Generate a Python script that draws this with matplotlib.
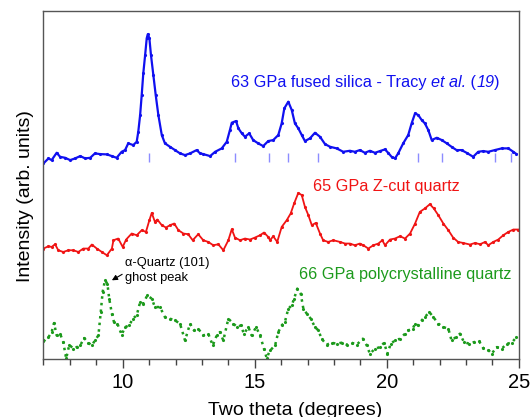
import matplotlib
matplotlib.use("Agg")
import matplotlib.pyplot as plt
from matplotlib.ticker import MultipleLocator

plt.rcParams['font.family'] = ['Liberation Sans', 'DejaVu Sans']

# 63 GPa fused silica (Tracy et al.)
silica_2theta = [7.00, 7.19, 7.31, 7.50, 7.63, 7.82, 8.01, 8.20, 8.39, 8.58, 8.77, 8.95,
                 9.14, 9.40, 9.59, 9.77, 9.96, 10.09, 10.21, 10.40, 10.53, 10.59, 10.66,
                 10.72, 10.78, 10.85, 10.91, 10.95, 11.01, 11.07, 11.16, 11.25, 11.35,
                 11.48, 11.60, 11.79, 11.98, 12.17, 12.36, 12.55, 12.80, 12.93,
                 13.05, 13.31, 13.50, 13.75, 13.94, 14.06, 14.13, 14.29, 14.38, 14.51,
                 14.63, 14.79, 14.94, 15.13, 15.32, 15.51, 15.70, 15.89, 16.02, 16.12,
                 16.27, 16.40, 16.52, 16.65, 16.78, 16.90, 17.09, 17.28, 17.47, 17.66,
                 17.85, 18.10, 18.35,
                 18.60, 18.79, 18.98, 19.17, 19.36, 19.55, 19.74, 19.93, 20.05, 20.18,
                 20.31, 20.43, 20.62, 20.81, 20.94, 21.07, 21.19, 21.32, 21.44, 21.57,
                 21.70, 21.89, 22.08, 22.27, 22.45, 22.64, 22.83, 23.02, 23.27, 23.46,
                 23.65, 23.84, 24.09, 24.35, 24.60, 24.79, 24.91]
silica_int = [19.57, 20.07, 19.90, 20.63, 20.23, 20.13, 19.90, 20.07, 20.30, 20.07, 20.13, 20.57,
              20.50, 20.47, 20.30, 20.13, 20.73, 20.90, 21.57, 21.40, 21.73, 22.73, 24.40,
              26.40, 28.57, 30.40, 32.07, 32.47, 32.07, 30.40, 28.40, 26.40, 24.40,
              22.40, 21.57, 21.23, 20.90, 20.57, 20.40, 20.57, 20.90, 20.57,
              20.50, 20.30, 20.73, 21.07, 21.73, 22.90, 23.63, 23.80, 23.07, 22.57,
              22.23, 22.57, 21.90, 21.57, 21.30, 21.80, 21.90, 22.40, 23.57, 25.07,
              25.73, 24.90, 23.57, 23.07, 22.40, 21.80, 22.07, 22.63, 22.23, 21.50,
              21.23, 21.07, 20.73,
              20.83, 20.73, 20.90, 20.63, 20.83, 20.63, 20.80, 20.97, 20.63, 20.23,
              20.07, 20.57, 21.57, 22.40, 23.57, 24.57, 24.40, 23.90, 23.57, 22.90,
              21.90, 22.13, 21.90, 21.57, 21.23, 20.90, 20.90, 20.63, 20.23, 20.73,
              20.80, 20.73, 20.90, 21.07, 21.07, 20.73, 20.50]

# reference reflection positions under the silica pattern
ref_2theta = [10.98, 14.26, 15.55, 16.27, 17.41, 21.18, 22.08, 24.09, 24.72]

# 65 GPa Z-cut quartz
zcut_2theta = [7.00, 7.19, 7.31, 7.44, 7.56, 7.75, 7.94, 8.13, 8.32, 8.51, 8.70, 8.83,
               9.02, 9.21, 9.40, 9.59, 9.65, 9.83, 10.00, 10.13, 10.34, 10.53, 10.72,
               10.88, 11.01, 11.10, 11.22, 11.31, 11.48, 11.64, 11.79, 11.95, 12.11,
               12.30, 12.48, 12.65, 12.86, 13.05, 13.24, 13.43, 13.62, 13.81, 14.00,
               14.13, 14.25, 14.44, 14.63, 14.82, 15.01, 15.20, 15.35, 15.51, 15.58,
               15.70, 15.85, 16.02, 16.21, 16.36, 16.49, 16.65, 16.78, 16.90, 17.03,
               17.16, 17.31, 17.47, 17.59, 17.78, 17.97, 18.23, 18.42, 18.60, 18.79,
               18.98, 19.11, 19.30, 19.49, 19.68, 19.83, 19.93, 20.12, 20.31, 20.50,
               20.69, 20.88, 21.07, 21.25, 21.44, 21.63, 21.78, 21.95, 22.14, 22.33,
               22.51, 22.70, 22.89, 23.15, 23.34, 23.53, 23.72, 23.84, 24.03, 24.22,
               24.41, 24.60, 24.79, 24.97]
zcut_int = [11.07, 11.30, 11.23, 11.50, 10.90, 10.73, 10.90, 10.90, 10.73, 11.07, 11.07, 11.47,
            11.07, 10.73, 10.40, 11.07, 11.90, 12.07, 11.23, 11.97, 12.57, 12.40, 12.90,
            12.73, 13.90, 14.63, 13.73, 13.97, 13.40, 13.17, 13.40, 13.57, 12.90,
            12.57, 12.50, 11.90, 12.50, 11.90, 11.73, 11.40, 11.50, 10.90, 11.90,
            13.00, 12.17, 11.90, 12.07, 11.97, 12.17, 12.40, 12.67, 12.23, 11.90,
            12.30, 11.73, 13.23, 13.90, 14.57, 15.57, 16.63, 16.40, 15.23, 14.40,
            13.40, 13.63, 12.57, 11.90, 11.73, 11.90, 11.73, 11.57, 11.57, 11.40,
            11.57, 11.40, 11.07, 11.40, 11.57, 11.90, 11.40, 11.97, 12.07, 12.30,
            12.07, 12.57, 13.57, 14.73, 15.07, 15.50, 15.07, 14.40, 13.57, 12.90,
            12.17, 11.73, 11.63, 11.47, 11.63, 11.50, 11.73, 11.40, 11.73, 11.97,
            12.40, 12.73, 12.97, 12.97]

# 66 GPa polycrystalline quartz
poly_2theta = [7.00, 7.19, 7.31, 7.40, 7.50, 7.63, 7.75, 7.86, 7.98, 8.13, 8.26, 8.39,
               8.54, 8.70, 8.83, 8.95, 9.08, 9.17, 9.24, 9.33, 9.42, 9.49, 9.59, 9.67,
               9.80, 9.96, 10.09, 10.25, 10.38, 10.53, 10.66, 10.78, 10.93, 11.10,
               11.22, 11.41, 11.60, 11.79, 11.98, 12.17, 12.36, 12.55, 12.70, 12.86,
               13.05, 13.24, 13.41, 13.56, 13.68, 13.81, 14.00, 14.19, 14.34, 14.47,
               14.59, 14.76, 14.88, 15.05, 15.20, 15.35, 15.45, 15.58, 15.77, 15.89,
               16.02, 16.14, 16.27, 16.40, 16.49, 16.61, 16.74, 16.84, 16.97, 17.12,
               17.28, 17.41, 17.53, 17.72, 17.91, 18.10, 18.29, 18.48, 18.67, 18.86,
               19.09, 19.24, 19.36, 19.55, 19.74, 19.90, 20.02, 20.15, 20.31, 20.50,
               20.69, 20.81, 20.98, 21.07, 21.19, 21.32, 21.44, 21.61, 21.76, 21.95,
               22.14, 22.33, 22.45, 22.62, 22.77, 22.92, 23.12, 23.30, 23.50, 23.65,
               23.84, 23.97, 24.16, 24.35, 24.54, 24.73, 24.91]
poly_int = [1.80, 2.23, 2.73, 3.63, 2.40, 2.57, 1.73, 0.10, 1.47, 1.07, 1.23, 1.40,
            2.13, 1.67, 1.40, 1.90, 2.40, 4.73, 6.73, 7.90, 7.57, 6.07, 4.57, 3.73,
            3.57, 2.47, 3.23, 3.40, 4.07, 4.40, 5.73, 5.57, 6.40, 6.07,
            5.23, 5.23, 4.23, 4.07, 3.90, 3.57, 1.90, 3.57, 2.90, 3.07,
            2.40, 2.57, 1.40, 2.40, 2.73, 1.90, 4.07, 3.57, 3.23, 3.40,
            2.57, 3.23, 2.40, 3.23, 2.40, 1.07, 0.15, 0.90, 1.40, 2.73,
            3.40, 3.73, 5.07, 5.40, 6.07, 7.07, 6.57, 5.07, 4.57, 4.07,
            3.23, 2.90, 2.07, 1.47, 1.67, 1.57, 1.67, 1.47, 1.67, 1.47,
            2.07, 1.40, 0.57, 1.07, 1.23, 1.67, 0.57, 1.57, 1.90, 2.07,
            2.57, 2.90, 3.07, 3.57, 3.40, 3.90, 4.23, 4.73, 4.23, 3.57,
            3.23, 3.07, 1.90, 2.23, 2.57, 1.73, 1.57, 1.73, 1.80, 1.13,
            0.97, 0.57, 1.23, 1.07, 1.57, 1.67, 2.23]

blue = '#1010f0'
red = '#f01414'
green = '#1c9a1c'

fig = plt.figure(figsize=(5.3, 4.17), dpi=100)
ax = fig.add_axes([0.082, 0.138, 0.897, 0.836])

ax.plot(silica_2theta, silica_int, '-', color=blue, lw=1.6, marker='.', ms=2.5)
ax.vlines(ref_2theta, 19.73, 20.57, color='#8c8cff', lw=1)
ax.plot(zcut_2theta, zcut_int, '-', color=red, lw=1.3, marker='.', ms=2.5)
ax.plot(poly_2theta, poly_int, ':', color=green, lw=1.8, marker='.', ms=2.5)

# blue label, built from pieces so "et al." and "19" can be italic
pieces = [('63 GPa fused silica - Tracy ', 'normal'), ('et al.', 'italic'),
          (' (', 'normal'), ('19', 'italic'), (')', 'normal')]
prev = ax.text(14.1, 27.2, pieces[0][0], color=blue, fontsize=11.7,
               ha='left', va='baseline')
for txt, style in pieces[1:]:
    prev = ax.annotate(txt, xy=(1, 0), xycoords=prev, color=blue, fontsize=11.7,
                       style=style, ha='left', va='bottom')

ax.text(20.0, 17.3, '65 GPa Z-cut quartz', color=red, fontsize=11.7, ha='center', va='center')
ax.text(24.7, 8.47, '66 GPa polycrystalline quartz', color=green, fontsize=11.7,
        ha='right', va='center')
ax.text(10.09, 8.9, 'α-Quartz (101)\nghost peak', fontsize=9.3, ha='left', va='center',
        linespacing=1.3)
ax.annotate('', xy=(9.59, 7.9), xytext=(9.98, 8.5),
            arrowprops=dict(arrowstyle='-|>', color='black', lw=0.8,
                            mutation_scale=8, shrinkA=0, shrinkB=0))

ax.set_xlim(7, 25)
ax.set_ylim(0, 34.8)
ax.xaxis.set_major_locator(MultipleLocator(5))
ax.xaxis.set_minor_locator(MultipleLocator(1))
ax.tick_params(axis='x', which='major', length=6.5, width=1, labelsize=14.5, pad=3,
               color='#444444')
ax.tick_params(axis='x', which='minor', length=4, width=1, color='#444444')
ax.set_yticks([])
for s in ax.spines.values():
    s.set_color('#555555')
    s.set_linewidth(1)

ax.set_xlabel('Two theta (degrees)', fontsize=14)
ax.xaxis.set_label_coords(0.529, -0.122)
ax.set_ylabel('Intensity (arb. units)', fontsize=14)
ax.yaxis.set_label_coords(-0.02, 0.47)

fig.savefig('out.png', dpi=100)
